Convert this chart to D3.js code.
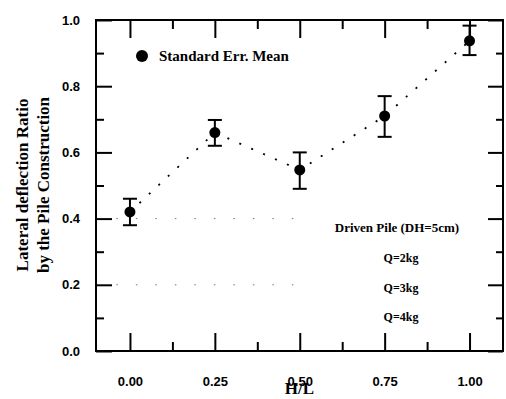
<!DOCTYPE html>
<html><head><meta charset="utf-8">
<script src="https://cdn.jsdelivr.net/npm/d3@7"></script>
<style>body{margin:0;background:#fff}</style>
</head><body>
<svg id="c" width="506" height="399"></svg>
<script>
const hl = [0.00, 0.25, 0.50, 0.75, 1.00];
const means = [0.42, 0.66, 0.547, 0.71, 0.937];
const errUp = [0.46, 0.698, 0.60, 0.77, 0.983];
const errLo = [0.38, 0.62, 0.49, 0.647, 0.894];
const xTicks = [0, 0.25, 0.5, 0.75, 1.0];
const yTicks = [0, 0.2, 0.4, 0.6, 0.8, 1.0];
const legendLines = ["Q=2kg", "Q=3kg", "Q=4kg"];

const svg = d3.select("#c");
const L = 96, R = 503, T = 20, B = 351;
const x = d3.scaleLinear().domain([-0.1, 1.1]).range([L, 503.5]);
const y = d3.scaleLinear().domain([0, 1]).range([B, T]);

// faint dotted guide rows
[0.2, 0.4].forEach(v => {
  svg.append("line").attr("x1", x(-0.04)).attr("x2", x(0.49)).attr("y1", y(v)).attr("y2", y(v))
    .attr("stroke", "#777").attr("stroke-width", 1).attr("stroke-dasharray", "1.5,18");
});

// axes
const sansTick = g => g.selectAll("text").attr("font-family", "Liberation Sans, Arial, sans-serif")
  .attr("font-weight", "bold").attr("font-size", 13).attr("fill", "#000");
const minorX = d3.range(-0.125 + 0.25, 1.1, 0.125).filter(v => Math.abs(v / 0.25 - Math.round(v / 0.25)) > 0.01);
const minorY = [0.1, 0.3, 0.5, 0.7, 0.9];

const gx = svg.append("g").attr("transform", `translate(0,${B})`)
  .call(d3.axisBottom(x).tickValues(xTicks).tickFormat(d3.format(".2f")).tickSizeInner(-18).tickSizeOuter(0).tickPadding(26));
gx.select(".domain").remove();
gx.selectAll("line").attr("stroke-width", 2);
sansTick(gx);
const gx2 = svg.append("g").attr("transform", `translate(0,${B})`)
  .call(d3.axisBottom(x).tickValues(minorX).tickFormat("").tickSizeInner(-9).tickSizeOuter(0));
gx2.select(".domain").remove(); gx2.selectAll("line").attr("stroke-width", 2);

const gt = svg.append("g").attr("transform", `translate(0,${T})`)
  .call(d3.axisTop(x).tickValues(xTicks).tickFormat("").tickSizeInner(-18).tickSizeOuter(0));
gt.select(".domain").remove(); gt.selectAll("line").attr("stroke-width", 2);
const gt2 = svg.append("g").attr("transform", `translate(0,${T})`)
  .call(d3.axisTop(x).tickValues(minorX).tickFormat("").tickSizeInner(-9).tickSizeOuter(0));
gt2.select(".domain").remove(); gt2.selectAll("line").attr("stroke-width", 2);

const gy = svg.append("g").attr("transform", `translate(${L},0)`)
  .call(d3.axisLeft(y).tickValues(yTicks).tickFormat(d3.format(".1f")).tickSizeInner(-16).tickSizeOuter(0).tickPadding(16));
gy.select(".domain").remove(); gy.selectAll("line").attr("stroke-width", 2);
sansTick(gy);
const gy2 = svg.append("g").attr("transform", `translate(${L},0)`)
  .call(d3.axisLeft(y).tickValues(minorY).tickFormat("").tickSizeInner(-8).tickSizeOuter(0));
gy2.select(".domain").remove(); gy2.selectAll("line").attr("stroke-width", 2);

const gr = svg.append("g").attr("transform", `translate(${R},0)`)
  .call(d3.axisRight(y).tickValues(yTicks).tickFormat("").tickSizeInner(-15).tickSizeOuter(0));
gr.select(".domain").remove(); gr.selectAll("line").attr("stroke-width", 2);
const gr2 = svg.append("g").attr("transform", `translate(${R},0)`)
  .call(d3.axisRight(y).tickValues(minorY).tickFormat("").tickSizeInner(-7).tickSizeOuter(0));
gr2.select(".domain").remove(); gr2.selectAll("line").attr("stroke-width", 2);

// frame
svg.append("rect").attr("x", L).attr("y", T).attr("width", R - L).attr("height", B - T)
  .attr("fill", "none").attr("stroke", "#000").attr("stroke-width", 2);

// dotted connecting line
svg.append("path").datum(hl.map((d, i) => [d, means[i]]))
  .attr("d", d3.line().x(d => x(d[0])).y(d => y(d[1])))
  .attr("fill", "none").attr("stroke", "#000").attr("stroke-width", 1.8).attr("stroke-dasharray", "2,11");

// error bars
const eb = svg.append("g");
hl.forEach((d, i) => {
  eb.append("line").attr("x1", x(d)).attr("x2", x(d)).attr("y1", y(errUp[i])).attr("y2", y(errLo[i]))
    .attr("stroke", "#000").attr("stroke-width", 2);
  [errUp[i], errLo[i]].forEach(v => eb.append("line").attr("x1", x(d) - 7).attr("x2", x(d) + 7)
    .attr("y1", y(v)).attr("y2", y(v)).attr("stroke", "#000").attr("stroke-width", 2));
});
svg.append("g").selectAll("circle").data(hl).join("circle")
  .attr("cx", d => x(d)).attr("cy", (d, i) => y(means[i])).attr("r", 5.5).attr("fill", "#000");

// legend
const serif = "Liberation Serif, Times New Roman, serif";
svg.append("circle").attr("cx", 142).attr("cy", 56).attr("r", 6).attr("fill", "#000");
svg.append("text").attr("x", 159).attr("y", 61).text("Standard Err. Mean")
  .attr("font-family", serif).attr("font-weight", "bold").attr("font-size", 15);
svg.append("text").attr("x", 397).attr("y", 232).attr("text-anchor", "middle").text("Driven Pile (DH=5cm)")
  .attr("font-family", serif).attr("font-weight", "bold").attr("font-size", 13);
svg.append("g").selectAll("text").data(legendLines).join("text")
  .attr("x", 401).attr("y", (d, i) => 262 + i * 29.5).attr("text-anchor", "middle").text(d => d)
  .attr("font-family", serif).attr("font-weight", "bold").attr("font-size", 12);

// axis titles
svg.append("text").attr("x", (L + R) / 2).attr("y", 394).attr("text-anchor", "middle").text("H/L")
  .attr("font-family", serif).attr("font-weight", "bold").attr("font-size", 17);
const yt = svg.append("text").attr("transform", "translate(0,185) rotate(-90)")
  .attr("text-anchor", "middle").attr("font-family", serif).attr("font-weight", "bold").attr("font-size", 17);
yt.append("tspan").attr("x", 0).attr("y", 28).text("Lateral deflection Ratio");
yt.append("tspan").attr("x", 0).attr("y", 49).text("by the Pile Construction");
</script>
</body></html>
